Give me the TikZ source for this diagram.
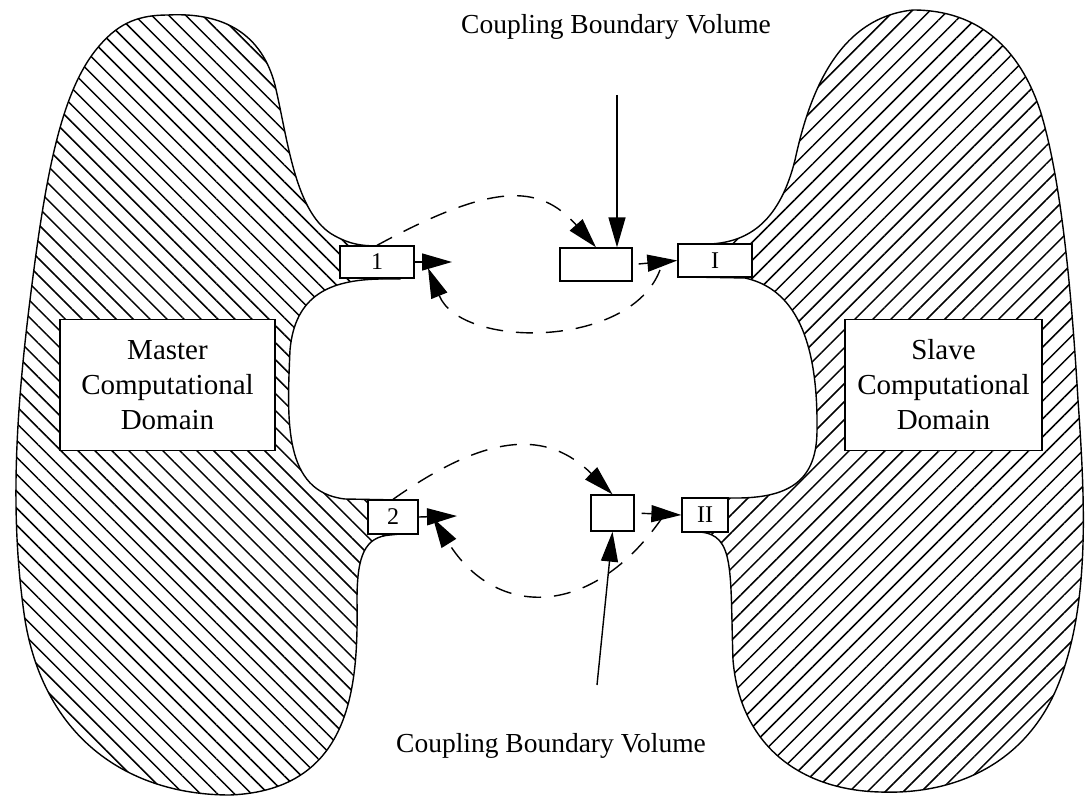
\documentclass[tikz,border=0pt]{standalone}
\usepackage{fontspec}
\setmainfont{Liberation Serif}
\usepackage{tikz}
\usetikzlibrary{positioning,arrows.meta,calc,patterns.meta}

\tikzset{
  region/.style={line width=1.4pt},
  port/.style={draw,line width=1.3pt,fill=white,inner sep=0pt,font=\fontsize{24}{26}\selectfont},
  infobox/.style={draw,line width=1.3pt,fill=white,align=center,inner sep=0pt,font=\fontsize{29}{35}\selectfont},
  arr/.style={line width=1.4pt,-{Triangle[length=30pt,width=17pt]}},
  link/.style={arr,dash pattern=on 17pt off 13pt},
  lbl/.style={font=\fontsize{27.5}{32}\selectfont}
}

\begin{document}
\begin{tikzpicture}[x=1pt,y=-1pt]
  \useasboundingbox (0,0) rectangle (1088,797);
  % master domain
  \draw[region,pattern={Lines[angle=-45,distance=12pt,line width=1.5pt]}]
    (168,15) .. controls (225,12) and (262,35) .. (275,85)
    .. controls (288,140) and (295,215) .. (335,236)
    .. controls (350,244) and (360,246) .. (380,246)
    -- (400,246) -- (400,279) -- (380,279)
    .. controls (330,280) and (295,295) .. (290,350)
    .. controls (287,420) and (283,492) .. (345,499)
    -- (400,500) -- (400,534) -- (390,535)
    .. controls (365,537) and (357,555) .. (357,600)
    .. controls (358,680) and (355,790) .. (230,795)
    .. controls (130,795) and (45,740) .. (25,620)
    .. controls (10,520) and (15,420) .. (30,300)
    .. controls (45,180) and (60,90) .. (100,45)
    .. controls (120,22) and (140,15) .. cycle;
  % slave domain
  \draw[region,pattern={Lines[angle=45,distance=12.7pt,line width=1.5pt]}]
    (913,10) .. controls (980,10) and (1020,50) .. (1040,110)
    .. controls (1062,180) and (1072,300) .. (1078,400)
    .. controls (1085,500) and (1090,600) .. (1060,680)
    .. controls (1030,760) and (960,795) .. (880,792)
    .. controls (800,790) and (740,745) .. (733,660)
    .. controls (730,570) and (735,535) .. (700,532)
    -- (690,532) -- (690,498) -- (740,498)
    .. controls (790,497) and (817,480) .. (817,430)
    .. controls (818,350) and (800,290) .. (745,278)
    -- (690,277) -- (690,244) -- (710,244)
    .. controls (750,242) and (780,220) .. (795,160)
    .. controls (808,100) and (835,18) .. cycle;

  \node[infobox,minimum width=215pt,minimum height=131pt] (master) at (167.5,385) {Master\\Computational\\Domain};
  \node[infobox,minimum width=197pt,minimum height=131pt] (slave) at (943.5,385) {Slave\\Computational\\Domain};

  \node[port,minimum width=74pt,minimum height=32pt] (b1) at (377,262) {1};
  \node[port,minimum width=74pt,minimum height=33pt] (bI) at (715,260.5) {I};
  \node[port,minimum width=72pt,minimum height=33pt] (cv1) at (596,264.5) {};
  \node[port,minimum width=50pt,minimum height=34pt] (b2) at (393,517) {2};
  \node[port,minimum width=46pt,minimum height=34pt] (bII) at (705,515) {II};
  \node[port,minimum width=43pt,minimum height=36pt] (cv2) at (612.5,513) {};

  \node[lbl] (lbltop) at (616,27) {Coupling Boundary Volume};
  \node[lbl] (lblbot) at (551,746) {Coupling Boundary Volume};

  \coordinate (t1) at (452,262);
  \coordinate (t2) at (457,516);
  \coordinate (s1) at (660,270);
  \coordinate (e1) at (428,268);
  \coordinate (s2) at (662,518);
  \coordinate (e2) at (433,518);
  \coordinate (p1) at (617,95);
  \coordinate (p2) at (597,685);

  % upper exchange
  \draw[arr] (b1.east) -- (t1);
  \draw[arr,shorten <=6pt] (cv1.east) -- (bI.west);
  \draw[link] (b1.north) .. controls (492,183) and (539,183) .. (cv1.north);
  \draw[link] (s1) .. controls (630,349) and (461,349) .. (e1);
  \draw[arr] (p1) -- (p1 |- cv1.north);

  % lower exchange
  \draw[arr] (b2.east) -- (t2);
  \draw[arr,shorten <=7pt] (cv2.east) -- (bII.west);
  \draw[link] (b2.north) .. controls (490,431) and (548,431) .. (cv2.north);
  \draw[link] (s2) .. controls (592,619) and (496,619) .. (e2);
  \draw[arr] (p2) -- (cv2.south);
\end{tikzpicture}
\end{document}
